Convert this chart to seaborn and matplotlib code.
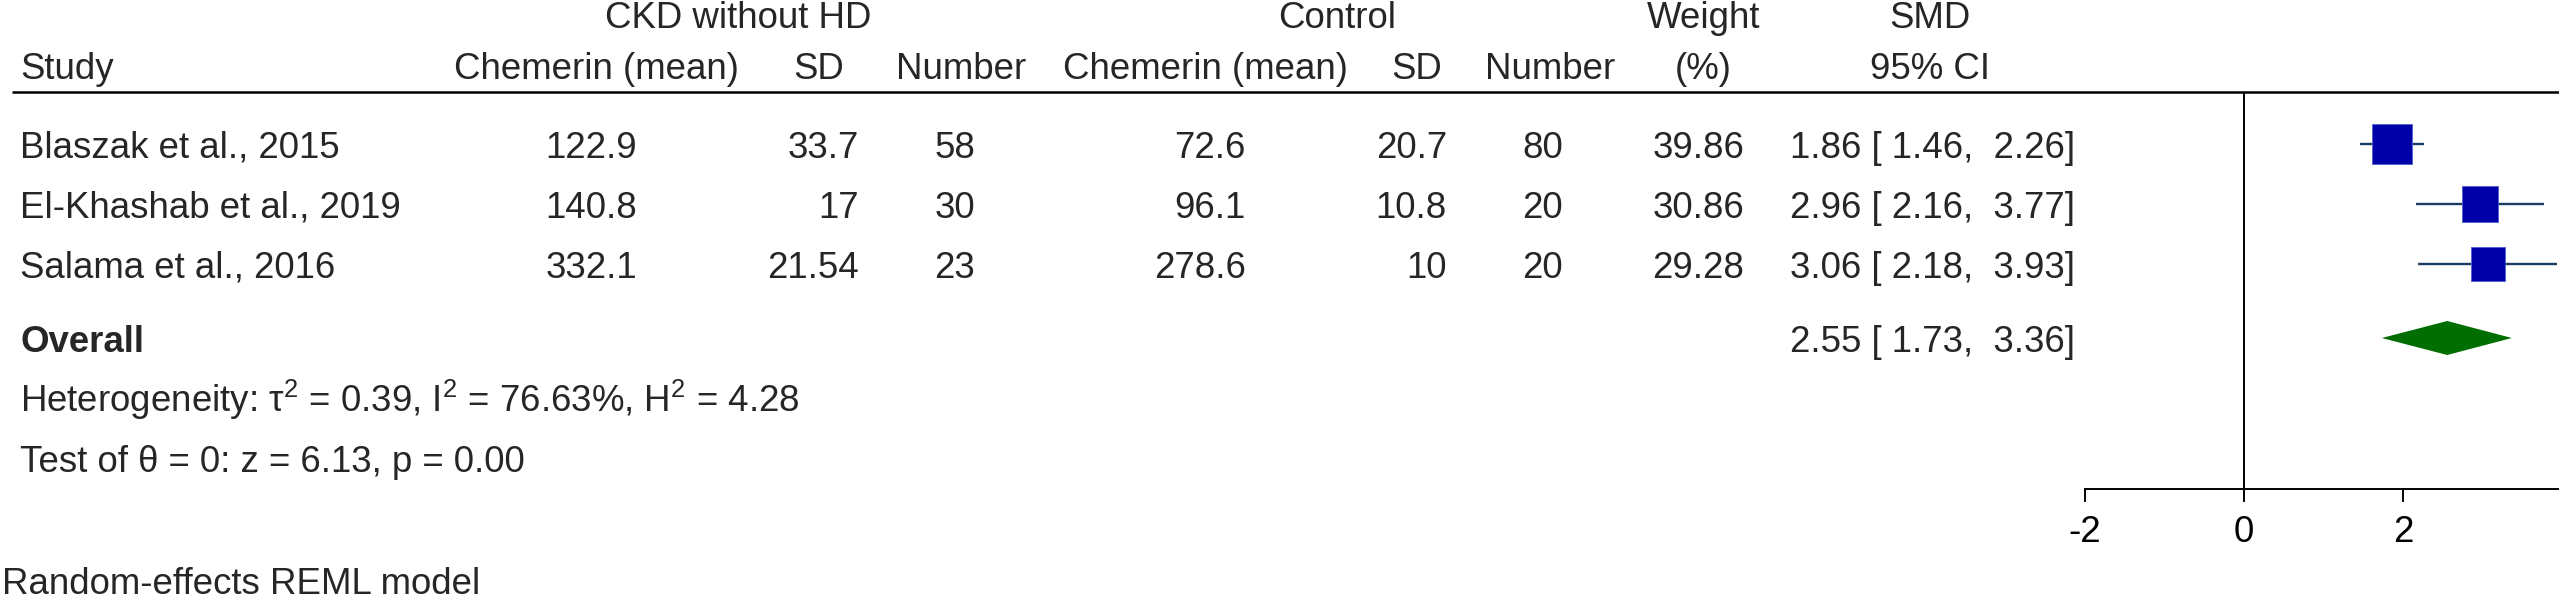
import numpy as np
import pandas as pd
import matplotlib
matplotlib.use("Agg")
import matplotlib.pyplot as plt
import seaborn as sns

# ---------------- data ----------------
studies = ["Blaszak et al., 2015", "El-Khashab et al., 2019", "Salama et al., 2016"]
ckd_mean = [122.9, 140.8, 332.1]
ckd_sd = [33.7, 17, 21.54]
ckd_n = [58, 30, 23]
ctl_mean = [72.6, 96.1, 278.6]
ctl_sd = [20.7, 10.8, 10]
ctl_n = [80, 20, 20]
weight = [39.86, 30.86, 29.28]
smd = [1.86, 2.96, 3.06]
ci_lo = [1.46, 2.16, 2.18]
ci_hi = [2.26, 3.77, 3.93]
overall_est, overall_lo, overall_hi = 2.55, 1.73, 3.36
x_ticks = [-2, 0, 2]
heterogeneity = "Heterogeneity: τ$^2$ = 0.39, I$^2$ = 76.63%, H$^2$ = 4.28"
test_text = "Test of θ = 0: z = 6.13, p = 0.00"
model_text = "Random-effects REML model"

# ---------------- style ----------------
sns.set_theme(style="white")
plt.rcParams["font.family"] = ["Liberation Sans", "DejaVu Sans"]
plt.rcParams["mathtext.fontset"] = "custom"
plt.rcParams["mathtext.rm"] = "Liberation Sans"
plt.rcParams["mathtext.it"] = "Liberation Sans:italic"
plt.rcParams["mathtext.bf"] = "Liberation Sans:bold"
plt.rcParams["axes.unicode_minus"] = False

W, H = 2559, 603
FS = 26.35
BOX_C = "#0000a8"
CI_C = "#1b3c62"
DIA_C = "#006e00"

fig = plt.figure(figsize=(W / 100, H / 100), dpi=100)
fig.patch.set_facecolor("white")

# text overlay axes in pixel coordinates
tx = fig.add_axes([0, 0, 1, 1])
tx.set_xlim(0, W)
tx.set_ylim(H, 0)
tx.axis("off")

# forest axes: x in SMD units, y in pixel rows
PX, X0 = 79.7, 2244
ax = fig.add_axes([0, 0, 1, 1])
ax.patch.set_alpha(0)
ax.set_xlim(-X0 / PX, (W - X0) / PX)
ax.set_ylim(H, 0)

row_y = [144, 204, 264]
base_off = 14
overall_y = 338

# ---------- header ----------
hdr1 = [("CKD without HD", 738), ("Control", 1337), ("Weight", 1704), ("SMD", 1930)]
for s, x in hdr1:
    tx.text(x, 28, s, ha="center", va="baseline", fontsize=FS)
tx.text(20, 79, "Study", ha="left", va="baseline", fontsize=FS)
hdr2 = [("Chemerin (mean)", 596), ("SD", 819), ("Number", 961),
        ("Chemerin (mean)", 1205), ("SD", 1417), ("Number", 1550),
        ("(%)", 1703), ("95% CI", 1930)]
for s, x in hdr2:
    tx.text(x, 79, s, ha="center", va="baseline", fontsize=FS)
tx.hlines(92, 12, W, color="black", lw=1.8)

# ---------- rows ----------
col_right = [637, 859, 975, 1246, 1447, 1563, 1744]
for i, st in enumerate(studies):
    yb = row_y[i] + base_off
    tx.text(20, yb, st, ha="left", va="baseline", fontsize=FS)
    vals = [ckd_mean[i], ckd_sd[i], ckd_n[i], ctl_mean[i], ctl_sd[i], ctl_n[i]]
    for v, xr in zip(vals, col_right[:6]):
        tx.text(xr, yb, f"{v:g}", ha="right", va="baseline", fontsize=FS)
    tx.text(col_right[6], yb, f"{weight[i]:.2f}", ha="right", va="baseline", fontsize=FS)
    tx.text(1790, yb, f"{smd[i]:.2f} [{ci_lo[i]:5.2f}, {ci_hi[i]:5.2f}]",
            ha="left", va="baseline", fontsize=FS)

tx.text(20, 352, "Overall", ha="left", va="baseline", fontsize=FS, fontweight="bold")
tx.text(1790, 352, f"{overall_est:.2f} [{overall_lo:5.2f}, {overall_hi:5.2f}]",
        ha="left", va="baseline", fontsize=FS)
tx.text(20, 412, heterogeneity, ha="left", va="baseline", fontsize=FS)
tx.text(20, 472, test_text, ha="left", va="baseline", fontsize=FS)
tx.text(2, 594, model_text, ha="left", va="baseline", fontsize=FS)

# ---------- forest ----------
ax.vlines(0, 92, 489, color="black", lw=1.4, zorder=1)
ax.hlines(row_y, ci_lo, ci_hi, color=CI_C, lw=1.7, zorder=2)

df = pd.DataFrame({"smd": smd, "y": row_y, "w": weight})
s_max = (40 * 0.72) ** 2
sns.scatterplot(data=df, x="smd", y="y", size="w",
                sizes=(s_max * min(weight) / max(weight), s_max),
                size_norm=(min(weight), max(weight)),
                marker="s", color=BOX_C, edgecolor="#4d5fd0", linewidth=0.6,
                legend=False, ax=ax, zorder=3)

ax.fill([overall_lo, overall_est, overall_hi, overall_est],
        [overall_y, overall_y - 17, overall_y, overall_y + 17],
        color=DIA_C, lw=0, zorder=3)

# axis
for sp in ["left", "right", "top"]:
    ax.spines[sp].set_visible(False)
ax.spines["bottom"].set_position(("data", 489))
ax.spines["bottom"].set_bounds(-2, (W - X0) / PX)
ax.spines["bottom"].set_linewidth(1.4)
ax.spines["bottom"].set_color("black")
ax.set_xticks(x_ticks)
ax.set_xticklabels([f"{t:d}" for t in x_ticks])
ax.set_yticks([])
ax.tick_params(axis="x", direction="out", length=9.4, width=1.4, pad=9,
               labelsize=FS, colors="black", bottom=True)
ax.set_xlabel("")
ax.set_ylabel("")
ax.grid(False)

fig.savefig("out.png", dpi=100, facecolor="white")
